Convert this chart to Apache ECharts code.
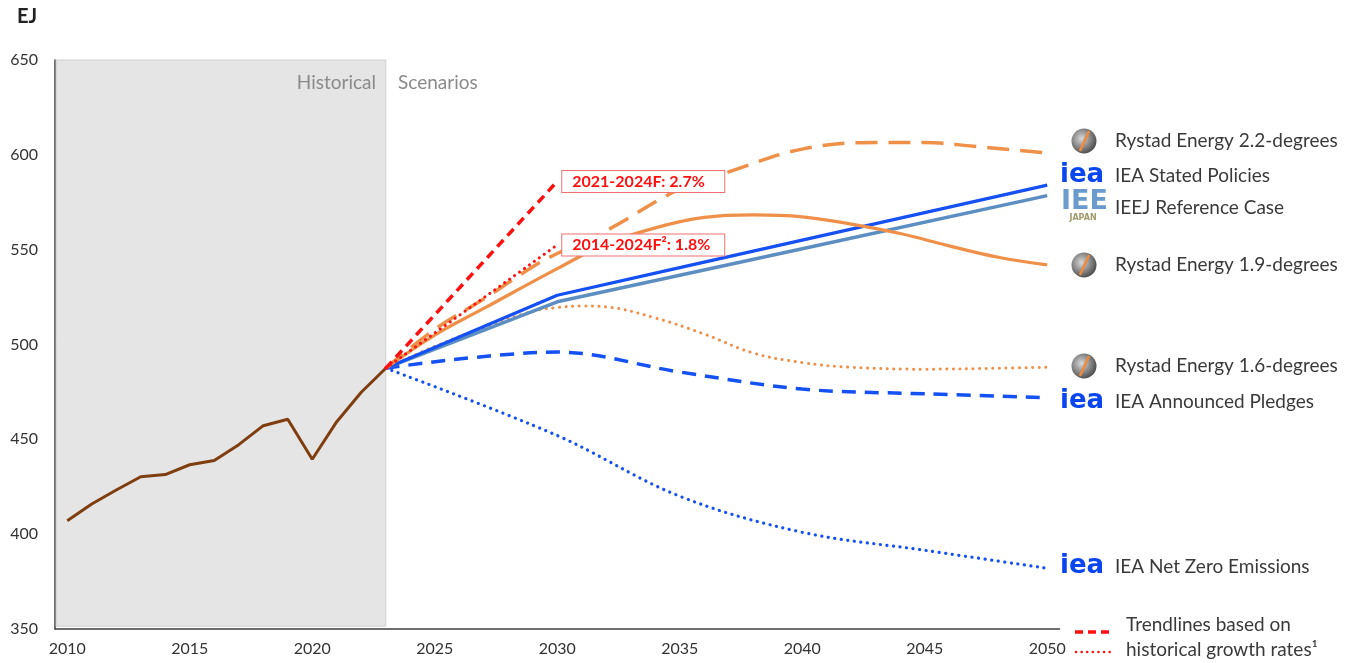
<!DOCTYPE html>
<html>
<head>
<meta charset="utf-8">
<script src="https://cdn.jsdelivr.net/npm/echarts@6/dist/echarts.min.js"></script>
<style>
  html, body { margin: 0; padding: 0; background: #fff; }
  #main { width: 1357px; height: 663px; }
</style>
</head>
<body>
<div id="main"></div>
<script>
// ---- data (EJ) ----
const histYears = [2010, 2011, 2012, 2013, 2014, 2015, 2016, 2017, 2018, 2019, 2020, 2021, 2022, 2023]
const histValues = [407.1, 415.9, 423.3, 430.3, 431.4, 436.6, 438.8, 447.2, 457.2, 460.6, 439.5, 459.3, 474.8, 487.5]

const rystad22Years = [2023, 2025, 2027, 2029, 2030, 2032, 2035, 2037, 2040, 2043, 2045, 2047, 2050]
const rystad22Values = [487.5, 508, 524, 541, 548, 560, 582, 591, 603, 606.5, 606.5, 604.5, 601]

const rystad19Years = [2023, 2025, 2027, 2030, 2032, 2034, 2036, 2038, 2040, 2042, 2044, 2046, 2048, 2050]
const rystad19Values = [487.5, 505, 519, 540, 553, 561.5, 567, 568.3, 567.3, 563.5, 558.5, 552, 546, 542]

const rystad16Years = [2023, 2025, 2027, 2029, 2030, 2031, 2032, 2034, 2036, 2038, 2040, 2042, 2045, 2048, 2050]
const rystad16Values = [487.5, 499, 509, 517.5, 519.5, 520.3, 519.8, 514, 505.5, 495.5, 490.5, 488, 487, 487.5, 488]

const stepsYears = [2023, 2030, 2035, 2040, 2045, 2050]
const stepsValues = [487.5, 526, 540.5, 555, 569.5, 584]

const ieejYears = [2023, 2030, 2040, 2050]
const ieejValues = [487.5, 522.5, 550.5, 578.5]

const apsYears = [2023, 2030, 2035, 2040, 2045, 2050]
const apsValues = [487.5, 496, 485.5, 476.5, 474, 472]

const nzeYears = [2023, 2030, 2035, 2040, 2045, 2050]
const nzeValues = [487.5, 452, 420, 401, 391.5, 382]

const trendYears = [2023, 2030]
const trend2127Values = [487.5, 586]
const trend1418Values = [487.5, 552.5]

const xLabels = [2010, 2015, 2020, 2025, 2030, 2035, 2040, 2045, 2050]

const FONT = 'Lato'
const ORANGE = '#ef9049'
const BLUE = '#1450f2'
const STEEL = '#5d8ec2'
const RED = '#ff1010'
const BROWN = '#7f3e10'

const zip = (xs, ys) => xs.map((x, i) => [x, ys[i]])

const chartDom = document.getElementById('main')
const myChart = echarts.init(chartDom)

function lineSeries(name, years, values, color, width, type, smooth, extra) {
  return Object.assign({
    name: name,
    type: 'line',
    data: zip(years, values),
    symbol: 'none',
    smooth: smooth,
    lineStyle: { color: color, width: width, type: type, cap: 'butt' },
    z: 3
  }, extra || {})
}

function rystadIcon(cy) {
  return {
    type: 'group',
    x: 1084, y: cy, z: 100,
    children: [
      { type: 'circle', shape: { cx: 0, cy: 0, r: 12.5 },
        style: { fill: new echarts.graphic.RadialGradient(0.4, 0.4, 0.7, [
          { offset: 0, color: '#d8d8d8' }, { offset: 1, color: '#3c3c3c' }]) } },
      { type: 'line', shape: { x1: -4, y1: 10, x2: 5, y2: -10 },
        style: { stroke: '#f08a3c', lineWidth: 2.5 } }
    ]
  }
}

function ieaIcon(cy) {
  return {
    type: 'text', x: 1060, y: cy, z: 100,
    style: { text: 'iea', font: 'bold 26px "DejaVu Sans"', fill: '#0a46f0', verticalAlign: 'middle' }
  }
}

function rightText(txt, cy) {
  return {
    type: 'text', x: 1115, y: cy, z: 100,
    style: { text: txt, font: '19px ' + FONT, fill: '#3a3a3a', verticalAlign: 'middle' }
  }
}

const boxLabel = (txt) => ({
  show: true,
  formatter: txt,
  color: RED, fontWeight: 'bold', fontFamily: FONT, fontSize: 16,
  backgroundColor: '#fff', borderColor: '#f07070', borderWidth: 1,
  padding: [3, 10, 2, 10], width: 142, distance: 5
})

const option = {
  animation: false,
  grid: { left: 55, right: 297.5, top: 60, bottom: 34 },
  xAxis: {
    type: 'value',
    min: 2009.5,
    max: 2050.5,
    axisLine: { show: true, lineStyle: { color: '#404040', width: 1.5 } },
    axisTick: { show: false },
    splitLine: { show: false },
    axisLabel: {
      customValues: xLabels,
      formatter: (v) => String(v),
      color: '#333',
      fontFamily: FONT,
      fontSize: 16,
      margin: 12
    }
  },
  yAxis: {
    type: 'value',
    min: 350,
    max: 650,
    interval: 50,
    axisLine: { show: true, lineStyle: { color: '#404040', width: 1.5 } },
    axisTick: { show: false },
    splitLine: { show: false },
    axisLabel: { color: '#333', fontFamily: FONT, fontSize: 16, margin: 17 }
  },
  series: [
    lineSeries('Historical', histYears, histValues, BROWN, 3, 'solid', false, {
      z: 5,
      markArea: {
        silent: true,
        itemStyle: { color: '#e5e5e5', borderColor: '#d0d0d0', borderWidth: 1 },
        data: [[{ xAxis: 2009.55, yAxis: 650 }, { xAxis: 2023, yAxis: 351.5 }]]
      }
    }),
    lineSeries('IEA Net Zero Emissions', nzeYears, nzeValues, BLUE, 3, [0.1, 6.5], 0.35, { lineStyle: { color: BLUE, width: 3.2, type: [0.1, 6.5], cap: 'round' } }),
    lineSeries('IEA Announced Pledges', apsYears, apsValues, BLUE, 3.5, [14, 9], 0.35),
    lineSeries('Rystad Energy 1.6-degrees', rystad16Years, rystad16Values, ORANGE, 3, [0.1, 6.5], 0.4, { lineStyle: { color: ORANGE, width: 3, type: [0.1, 6.5], cap: 'round' } }),
    lineSeries('IEEJ Reference Case', ieejYears, ieejValues, STEEL, 3.5, 'solid', false),
    lineSeries('IEA Stated Policies', stepsYears, stepsValues, BLUE, 3.2, 'solid', false),
    lineSeries('Rystad Energy 1.9-degrees', rystad19Years, rystad19Values, ORANGE, 3.2, 'solid', 0.4),
    lineSeries('Rystad Energy 2.2-degrees', rystad22Years, rystad22Values, ORANGE, 3.5, [22, 11], 0.4),
    lineSeries('Trend 2021-2024F', trendYears, trend2127Values, RED, 3.5, [9, 6], false, {
      z: 6,
      endLabel: boxLabel('2021-2024F: 2.7%')
    }),
    lineSeries('Trend 2014-2024F', trendYears, trend1418Values, RED, 3, [0.1, 6], false, {
      z: 6,
      lineStyle: { color: RED, width: 3, type: [0.1, 6], cap: 'round' },
      endLabel: boxLabel('2014-2024F\u00b2: 1.8%')
    })
  ],
  graphic: [
    { type: 'text', x: 17, y: 17, z: 100, style: { text: 'EJ', font: 'bold 20px ' + FONT, fill: '#222', verticalAlign: 'middle' } },
    { type: 'text', x: 376, y: 83, z: 100, style: { text: 'Historical', font: '19px ' + FONT, fill: '#8a8a8a', align: 'right', verticalAlign: 'middle' } },
    { type: 'text', x: 398, y: 83, z: 100, style: { text: 'Scenarios', font: '19px ' + FONT, fill: '#8a8a8a', verticalAlign: 'middle' } },

    rystadIcon(141), rightText('Rystad Energy 2.2-degrees', 141),
    ieaIcon(175), rightText('IEA Stated Policies', 176),
    { type: 'text', x: 1061, y: 202, z: 100, style: { text: 'IEE', font: 'bold 27px "DejaVu Sans"', fill: '#6b9bcc', verticalAlign: 'middle' } },
    { type: 'text', x: 1083, y: 218, z: 100, style: { text: 'JAPAN', font: 'bold 8px "DejaVu Sans"', fill: '#a09a6a', align: 'center', verticalAlign: 'middle' } },
    rightText('IEEJ Reference Case', 208),
    rystadIcon(265), rightText('Rystad Energy 1.9-degrees', 265),
    rystadIcon(366), rightText('Rystad Energy 1.6-degrees', 366),
    ieaIcon(401), rightText('IEA Announced Pledges', 402),
    ieaIcon(566), rightText('IEA Net Zero Emissions', 567),

    { type: 'line', z: 100, shape: { x1: 1075, y1: 632, x2: 1112, y2: 632 }, style: { stroke: RED, lineWidth: 3.5, lineDash: [8, 5] } },
    { type: 'line', z: 100, shape: { x1: 1076, y1: 652, x2: 1112, y2: 652 }, style: { stroke: RED, lineWidth: 2.5, lineDash: [0.1, 5.5], lineCap: 'round' } },
    { type: 'text', x: 1126, y: 625, z: 100, style: { text: 'Trendlines based on', font: '19px ' + FONT, fill: '#3a3a3a', verticalAlign: 'middle' } },
    { type: 'text', x: 1126, y: 650, z: 100, style: { text: 'historical growth rates\u00b9', font: '19px ' + FONT, fill: '#3a3a3a', verticalAlign: 'middle' } }
  ]
}

option && myChart.setOption(option)
</script>
</body>
</html>
